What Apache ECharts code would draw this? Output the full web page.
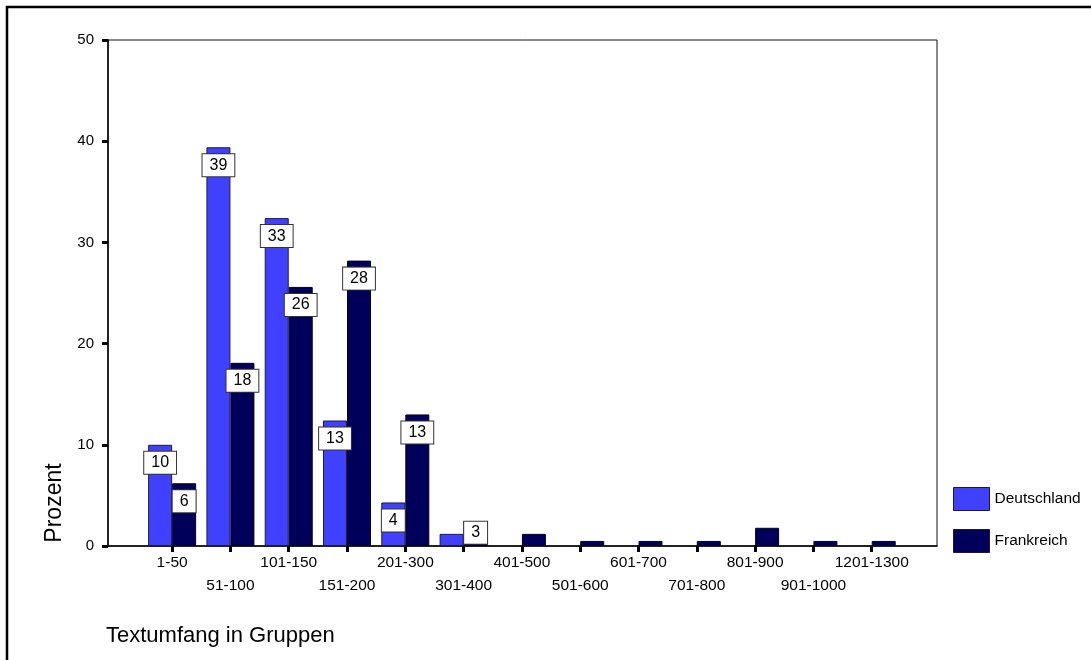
<!DOCTYPE html>
<html><head><meta charset="utf-8">
<script src="https://cdn.jsdelivr.net/npm/echarts@6/dist/echarts.min.js"></script>
<style>html,body{margin:0;padding:0;background:#fff}#c{width:1091px;height:660px}</style>
</head><body><div id="c"></div>
<script>
const categories = ['1-50','51-100','101-150','151-200','201-300','301-400','401-500','501-600','601-700','701-800','801-900','901-1000','1201-1300'];
const deutschland = [10.0, 39.4, 32.4, 12.4, 4.3, 1.2, null, null, null, null, null, null, null];
const frankreich  = [6.2, 18.1, 25.6, 28.2, 13.0, 2.4, 1.2, 0.5, 0.5, 0.5, 1.8, 0.5, 0.5];
const deutschlandLabels = [10, 39, 33, 13, 4, null, null, null, null, null, null, null, null];
const frankreichLabels  = [6, 18, 26, 28, 13, 3, null, null, null, null, null, null, null];
const seriesNames = ['Deutschland', 'Frankreich'];
const yMin = 0, yMax = 50, yStep = 10;

const FONT = 'Liberation Sans, Arial, sans-serif';
const idx = categories.map((_, i) => i);
const evenIdx = idx.filter(i => i % 2 === 0);
const oddIdx = idx.filter(i => i % 2 === 1);

function build(values, labels) {
  return values.map((v, i) => {
    if (v == null) return null;
    const item = { value: [i, v] };
    if (labels[i] != null) {
      item.label = { show: true, formatter: String(labels[i]), distance: v < 3 ? 0 : 7 };
    } else {
      item.label = { show: false };
    }
    return item;
  }).filter(d => d !== null);
}

const labelStyle = {
  position: 'insideTop', color: '#000', fontFamily: FONT, fontSize: 16,
  backgroundColor: '#fff', borderColor: '#333', borderWidth: 1, padding: [3, 7, 3, 7]
};

const xCommon = { type: 'value', min: -1.1, max: 13.12, splitLine: { show: false } };
const catLabel = (margin, vals) => ({
  customValues: vals, showMaxLabel: true, showMinLabel: true, hideOverlap: false,
  margin: margin, color: '#000', fontFamily: FONT, fontSize: 15.5,
  formatter: v => categories[Math.round(v)]
});

const chart = echarts.init(document.getElementById('c'), null, { renderer: 'canvas' });
chart.setOption({
  animation: false,
  backgroundColor: '#fff',
  grid: { left: 108, top: 40, right: 154, bottom: 114, show: true, borderColor: '#111', borderWidth: 1, backgroundColor: 'transparent' },
  legend: {
    orient: 'vertical', left: 948, top: 482, itemWidth: 36, itemHeight: 23, itemGap: 18,
    icon: 'rect', data: seriesNames,
    textStyle: { color: '#000', fontFamily: FONT, fontSize: 15.5, padding: [12, 0, 0, 0] },
    itemStyle: { borderColor: '#1a1a3a', borderWidth: 1 }
  },
  xAxis: [
    Object.assign({}, xCommon, {
      position: 'bottom',
      axisLine: { show: true, onZero: false, lineStyle: { color: '#000', width: 1.5 } },
      axisTick: { show: true, customValues: idx, length: 6, lineStyle: { color: '#000', width: 3 } },
      axisLabel: catLabel(9, evenIdx)
    }),
    Object.assign({}, xCommon, {
      position: 'bottom', offset: 0,
      axisLine: { show: false, onZero: false },
      axisTick: { show: false },
      axisLabel: catLabel(32, oddIdx)
    })
  ],
  yAxis: {
    type: 'value', min: yMin, max: yMax, interval: yStep,
    splitLine: { show: false },
    axisLine: { show: true, onZero: false, lineStyle: { color: '#000', width: 1.5 } },
    axisTick: { show: true, length: 6, lineStyle: { color: '#000', width: 3 } },
    axisLabel: { margin: 14, color: '#000', fontFamily: FONT, fontSize: 15 }
  },
  series: [
    {
      name: seriesNames[0], type: 'bar', xAxisIndex: 0, barWidth: 24, barGap: '0%',
      itemStyle: { color: '#4040ff', borderColor: '#1a1a4a', borderWidth: 1 },
      label: labelStyle, data: build(deutschland, deutschlandLabels)
    },
    {
      name: seriesNames[1], type: 'bar', xAxisIndex: 0, barWidth: 24, barGap: '0%',
      itemStyle: { color: '#00005a', borderColor: '#000020', borderWidth: 1 },
      label: labelStyle, data: build(frankreich, frankreichLabels)
    }
  ],
  graphic: [
    { type: 'rect', silent: true, shape: { x: 7, y: 7, width: 1200, height: 800 }, style: { fill: 'none', stroke: '#000', lineWidth: 2.5 } },
    { type: 'text', x: 55, y: 503, rotation: Math.PI / 2, style: { text: 'Prozent', font: '23px ' + FONT, fill: '#000', align: 'center', verticalAlign: 'middle' } },
    { type: 'text', x: 106, y: 636, style: { text: 'Textumfang in Gruppen', font: '22px ' + FONT, fill: '#000', align: 'left', verticalAlign: 'middle' } }
  ]
});
</script></body></html>
